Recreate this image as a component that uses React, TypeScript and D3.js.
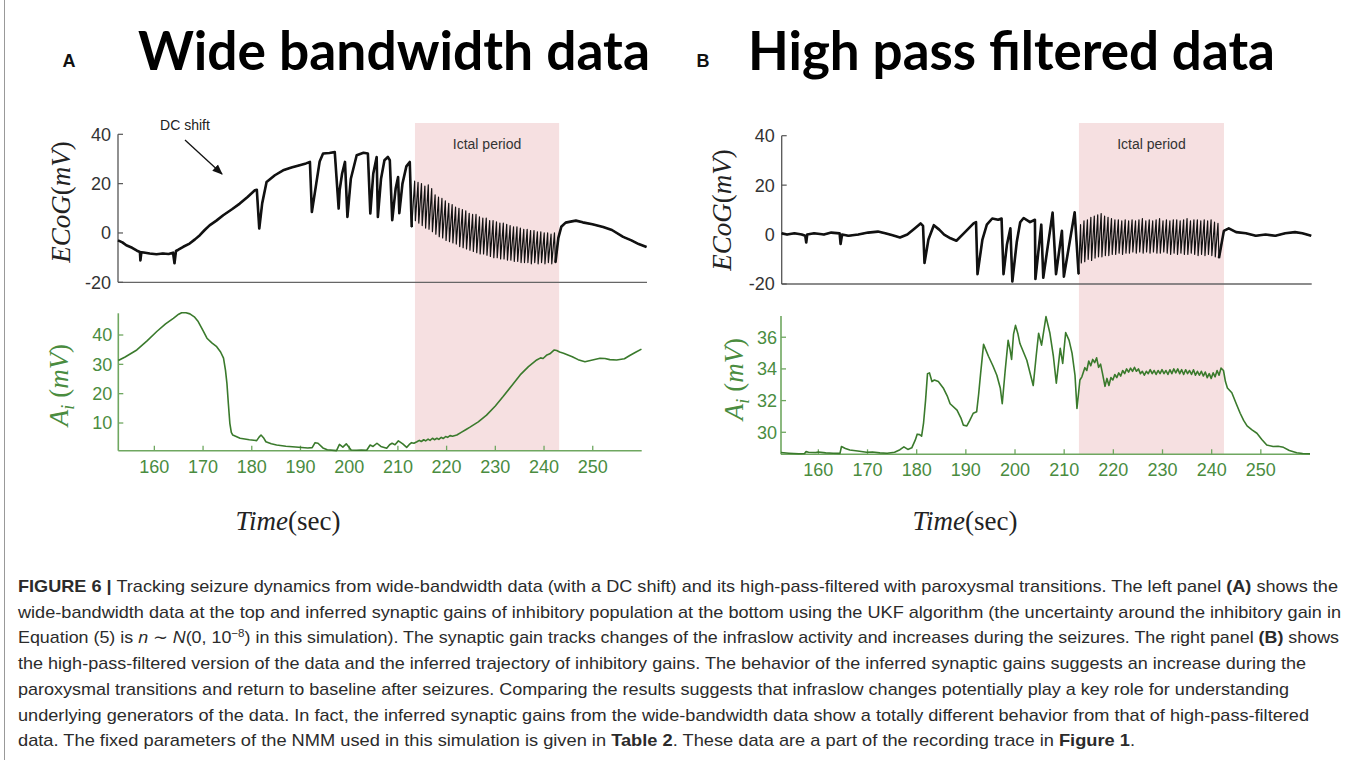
import React from 'react'
import * as d3 from 'd3'

type Pt = [number, number]

// ---- panel A (wide bandwidth) ECoG trace, [time s, mV]
const wideEcogPre: Pt[] = [
  [152.6, -3], [153.5, -3.8], [154.3, -5], [155.5, -6], [156.5, -7.2], [157.1, -7.7], [157.2, -11.1], [157.4, -7.8],
  [158.2, -8], [159.1, -8.3], [160.5, -8.6], [161.8, -8.3], [163, -8.5], [163.9, -8], [164.2, -12.3], [164.5, -7.3],
  [164.9, -6.9], [166, -5.6], [167.3, -4.3], [168.4, -2.6], [169.4, -0.9], [170.4, 1.2], [171.4, 3.1], [172.8, 5],
  [174.2, 7.2], [176, 9.6], [177.6, 11.9], [179.2, 14.6], [180.7, 17.3], [181.1, 17.5], [181.6, 1.8], [182.2, 12],
  [183.1, 20.7], [184.8, 23.4], [186.5, 25.4], [188.2, 26.5], [189.9, 27.5], [191.2, 28.2], [192, 28.8], [192.4, 8.5],
  [193.3, 20], [194, 29], [194.7, 32.2], [196, 32.4], [197.1, 32.8], [197.9, 9.9], [198.1, 17.3], [198.6, 24],
  [199.2, 28.8], [199.7, 6.5], [200.4, 22], [201.6, 31.5], [203, 32.5], [203.9, 32.2], [204.4, 7.9], [205, 24],
  [205.7, 30.8], [205.95, 6.5], [206.6, 22], [207.3, 29.5], [208.0, 30.8], [208.4, 29.5], [208.9, 5.2], [209.6, 18],
  [210.1, 22.7], [210.35, 8], [211.0, 20], [211.8, 27], [212.5, 28.8], [212.9, 2.4],
]
const wideEcogIctal: Pt[] = [
  [213.5, 21], [213.65, 5], [214.2, 20.5], [214.35, 4], [214.9, 20], [215.05, 3], [215.6, 19], [215.75, 2],
  [216.3, 19.5], [216.45, 1.5], [217.0, 18], [217.15, 0.5], [217.7, 15.5], [217.85, -0.5], [218.4, 14.5], [218.55, -1.5],
  [219.1, 14], [219.25, -2], [219.8, 13], [219.95, -3], [220.5, 12], [220.65, -3.5], [221.2, 11.5], [221.35, -4],
  [221.9, 10.5], [222.05, -4.5], [222.6, 10], [222.75, -5.5], [223.3, 9.5], [223.45, -6], [224.0, 9], [224.15, -6.5],
  [224.7, 8], [224.85, -7], [225.4, 7.5], [225.55, -7.5], [226.1, 7.5], [226.25, -8], [226.8, 6.5], [226.95, -8.5],
  [227.5, 6], [227.65, -8.5], [228.2, 6], [228.35, -9], [228.9, 5], [229.05, -9.5], [229.6, 5], [229.75, -10],
  [230.3, 4.5], [230.45, -10], [231.0, 4], [231.15, -10.5], [231.7, 4], [231.85, -10.5], [232.4, 3.5], [232.55, -11],
  [233.1, 3], [233.25, -11], [233.8, 2.5], [233.95, -11.5], [234.5, 2.5], [234.65, -11.5], [235.2, 2], [235.35, -12],
  [235.9, 1.5], [236.05, -12], [236.6, 1.5], [236.75, -12], [237.3, 1], [237.45, -12.5], [238.0, 1], [238.15, -12],
  [238.7, 0.5], [238.85, -12.5], [239.4, 0.5], [239.55, -12], [240.1, 0], [240.25, -12.5], [240.8, 0], [240.95, -12],
  [241.5, -0.5], [241.65, -12.5], [242.2, 0], [242.4, -12],
]
const wideEcogPost: Pt[] = [
  [242.4, -12], [243.0, -2], [243.6, 2.5], [244.5, 4.2], [245.5, 4.6], [246.6, 5], [248, 4.3], [250, 3.5],
  [252.2, 2.4], [254, 1.2], [256.3, -1.6], [258, -3], [259.5, -4.5], [261.1, -5.7],
]

// ---- panel A inhibitory gain, [time s, mV]
const wideGain: Pt[] = [
  [152.6, 31.3], [154, 32.5], [156.4, 34.9], [158.5, 38], [160.5, 41.2], [162.3, 43.8], [163.9, 45.7], [165, 47.1],
  [165.6, 47.6], [166.5, 47.6], [167.3, 47.2], [168.2, 46.2], [169, 44.6], [170, 41.5], [170.8, 38.9], [171.8, 37.3],
  [172.8, 36], [173.6, 34.2], [174.2, 32.1], [174.6, 28], [174.9, 23.5], [175.2, 16.5], [175.5, 9.9], [175.8, 6.8],
  [176.1, 5.9], [177.6, 4.8], [179.5, 4.3], [181, 4], [181.5, 5.2], [181.9, 5.9], [182.4, 5], [182.9, 3.6],
  [184, 2.9], [185.1, 2.5], [187, 2.1], [189, 1.8], [191.5, 1.5], [192.4, 1.6], [193, 3.3], [193.6, 3.1],
  [194.6, 1.5], [195.5, 0.9], [197.4, 0.6], [198, 2.7], [198.7, 1.8], [199.4, 2.9], [200.4, 0.8], [201.5, 0.7],
  [202.5, 0.8], [203.6, 0.7], [204.3, 2.5], [204.9, 2.0], [205.7, 3.1], [206.5, 2.0], [207.7, 1.4], [208.3, 2.6],
  [208.8, 3.1], [209.4, 2.6], [210.1, 3.9], [211, 2.9], [211.8, 1.7], [212.3, 2.6], [212.8, 3.3], [213.3, 3.1],
  [213.9, 3.6], [214.4, 4.1], [214.8, 3.7], [215.3, 4.3], [215.7, 3.9], [216.2, 4.5], [216.6, 4.1], [217.1, 4.8],
  [217.5, 4.3], [218, 4.8], [218.4, 4.4], [218.9, 5.1], [219.3, 4.7], [219.8, 5.4], [220.2, 5.1], [220.7, 5.7],
  [221.2, 5.5], [222.1, 5.9], [223, 6.8], [224, 7.8], [224.8, 8.6], [226.5, 10.4], [228.2, 12.7], [230, 15.8],
  [231.6, 19], [233.4, 22.8], [235.1, 26.4], [236.8, 29.2], [238.5, 31.5], [239.3, 32.2], [239.8, 32.0], [240.6, 33.2],
  [241.2, 33.6], [242.1, 34.9], [242.6, 34.7], [243.2, 34.2], [244, 33.8], [245.8, 32.6], [247, 31.6], [248.4, 30.9],
  [249.5, 31.3], [251.5, 32.1], [252.5, 32.0], [253.5, 31.6], [254.9, 31.5], [256.5, 31.9], [257.6, 33], [258.8, 34.1],
  [260, 35.2],
]

// ---- panel B (high pass filtered) ECoG trace
const hpEcogPre: Pt[] = [
  [152.4, 0.5], [153.5, 0], [155, 0.5], [156.5, 0], [157.2, -0.5], [157.4, -3.2], [157.6, 0], [159, 0.5],
  [161, 0], [162.5, 0.8], [164.2, 0.5], [164.4, -3.8], [164.7, 0], [166, -0.5], [168, 0], [170, 0.8],
  [172, 1.2], [173.5, 0.5], [175, -0.3], [176.5, -1.2], [178, 0], [179.5, 2.5], [180.7, 4.5], [181.2, 3.5],
  [181.5, -11.5], [182.3, -2], [183.4, 3.8], [184.5, 2], [185.5, 0], [186.8, -1.5], [188, -2.5], [189.5, 0.5],
  [191.5, 4.5], [192.0, 5], [192.3, -16], [193.3, -2], [194.2, 4], [195.3, 6.5], [196.5, 6], [197.2, 6.5],
  [197.6, -16], [198.3, -4], [199, 2.5], [199.4, -19], [200.3, -3], [201.0, 5], [201.7, 6.7], [203.0, 5],
  [204.0, 6], [204.1, -18], [205.3, 4], [205.7, -17.5], [207.6, 8.9], [208.3, -16], [209.5, 1.5], [209.9, -17],
  [212.1, 9], [212.9, -16],
]
const hpEcogIctal: Pt[] = [
  [213.3, 4], [213.45, -11.5], [214.0, 5.5], [214.15, -11], [214.7, 6], [214.85, -10], [215.4, 7], [215.55, -10.5],
  [216.1, 7.5], [216.25, -9.5], [216.8, 8], [216.95, -9], [217.5, 8.5], [217.65, -9], [218.2, 7.5], [218.35, -8.5],
  [218.9, 7], [219.05, -8.5], [219.6, 6.5], [219.75, -8], [220.3, 6], [220.45, -8], [221.0, 6], [221.15, -7.5],
  [221.7, 5.5], [221.85, -8], [222.4, 6], [222.55, -7.5], [223.1, 5.5], [223.25, -7.5], [223.8, 6], [223.95, -7],
  [224.5, 5.5], [224.65, -7.5], [225.2, 6], [225.35, -7], [225.9, 6.5], [226.05, -7.5], [226.6, 5.5], [226.75, -7],
  [227.3, 6], [227.45, -7.5], [228.0, 5.5], [228.15, -7], [228.7, 6], [228.85, -7.5], [229.4, 6.5], [229.55, -7.5],
  [230.1, 5.5], [230.25, -7], [230.8, 6], [230.95, -7.5], [231.5, 5.5], [231.65, -8], [232.2, 6], [232.35, -7.5],
  [232.9, 6], [233.05, -8], [233.6, 5.5], [233.75, -7.5], [234.3, 6], [234.45, -8], [235.0, 6.5], [235.15, -8],
  [235.7, 5.5], [235.85, -7.5], [236.4, 6], [236.55, -8], [237.1, 6], [237.25, -8.5], [237.8, 5.5], [237.95, -8],
  [238.5, 6], [238.65, -8.5], [239.2, 5.5], [239.35, -8], [239.9, 6], [240.05, -8.5], [240.6, 5], [240.75, -9],
  [241.3, 4.5], [241.5, -9.5],
]
const hpEcogPost: Pt[] = [
  [241.5, -9.5], [242.5, 1.5], [243.5, 2.5], [245, 1], [247, 0.5], [249, -0.5], [251, 0], [253, -0.5],
  [255, 0.5], [257, 1], [258.5, 0.5], [260.3, -0.5],
]

// ---- panel B inhibitory gain
const hpGain: Pt[] = [
  [152.4, 28.72], [154, 28.68], [156, 28.64], [157.2, 28.66], [157.5, 28.78], [158, 28.74], [159.5, 28.72], [160, 28.76],
  [161.5, 28.7], [163, 28.68], [164.4, 28.67], [164.7, 29.1], [165.5, 28.98], [166.4, 28.88], [168, 28.82], [169.8, 28.74],
  [171, 28.76], [172.5, 28.7], [174, 28.68], [175.5, 28.74], [176.6, 28.9], [177.4, 29.08], [178.2, 28.92], [179, 29.02],
  [179.7, 29.5], [180.1, 29.88], [180.6, 29.85], [181.0, 29.75], [181.4, 30.6], [181.8, 32.0], [182.2, 33.7], [182.6, 33.75],
  [183.1, 33.2], [183.6, 33.3], [184.4, 33.2], [185.4, 32.8], [186.2, 32.3], [186.8, 31.8], [188.2, 31.4], [189.0, 30.9],
  [189.5, 30.45], [190.2, 30.4], [190.8, 30.75], [191.5, 31.2], [192.2, 31.3], [192.6, 32.4], [193.0, 33.7], [193.6, 35.55],
  [194.6, 34.8], [195.5, 34.2], [196.3, 33.6], [197.0, 32.8], [197.4, 31.8], [198.0, 33.9], [198.6, 35.8], [199.0, 35.2],
  [199.3, 34.6], [199.7, 36.2], [200.1, 36.75], [200.6, 36.2], [201.0, 35.6], [202.4, 34.55], [203.7, 32.95], [204.3, 34.8],
  [204.8, 36.25], [205.4, 35.5], [206.3, 37.3], [207.1, 36.25], [207.8, 34.8], [208.4, 33.1], [209.2, 35.3], [209.7, 34.35],
  [210.3, 36.3], [211.0, 35.8], [211.6, 35.0], [212.2, 33.6], [212.6, 31.5], [213.2, 33.3], [213.6, 33.5], [214.2, 34.08],
  [214.6, 33.9], [215.0, 34.5], [215.4, 34.2], [215.8, 34.6], [216.2, 34.4], [216.6, 34.7], [217.0, 34.1], [217.4, 34.3],
  [217.8, 33.7], [218.3, 32.9], [218.7, 33.4], [219.1, 32.95], [219.5, 33.45], [219.9, 33.3], [220.3, 33.65], [220.7, 33.45],
  [221.1, 33.75], [221.5, 33.55], [221.9, 33.9], [222.3, 33.7], [222.7, 34.0], [223.1, 33.8], [223.5, 34.05], [223.9, 33.85],
  [224.3, 34.1], [224.7, 33.85], [225.1, 34.0], [225.5, 33.7], [225.9, 33.85], [226.3, 33.6], [226.7, 33.85], [227.1, 33.7],
  [227.5, 33.95], [227.9, 33.7], [228.3, 33.9], [228.7, 33.65], [229.1, 33.9], [229.5, 33.7], [229.9, 33.95], [230.3, 33.7],
  [230.7, 33.9], [231.1, 33.65], [231.5, 33.95], [231.9, 33.7], [232.3, 34.0], [232.7, 33.75], [233.1, 34.0], [233.5, 33.7],
  [233.9, 33.95], [234.3, 33.65], [234.7, 33.95], [235.1, 33.7], [235.5, 33.9], [235.9, 33.65], [236.3, 33.95], [236.7, 33.6],
  [237.1, 33.85], [237.5, 33.6], [237.9, 33.85], [238.3, 33.55], [238.7, 33.8], [239.1, 33.45], [239.5, 33.7], [239.9, 33.4],
  [240.3, 33.75], [240.7, 33.5], [241.1, 33.9], [241.5, 33.6], [241.9, 34.05], [242.4, 33.9], [242.8, 33.2], [243.2, 32.8],
  [244.1, 32.5], [245.0, 31.8], [245.8, 31.2], [246.5, 30.75], [247.2, 30.4], [248.2, 30.15], [249.2, 29.94], [250.2, 29.55],
  [251.2, 29.2], [252.5, 29.1], [253.5, 29.12], [254.6, 29.05], [255.8, 28.85], [257.3, 28.71], [258.5, 28.66], [260.0, 28.64],
]

const timeTicks = [160, 170, 180, 190, 200, 210, 220, 230, 240, 250]
const ecogTicks = [-20, 0, 20, 40]
const wideGainTicks = [10, 20, 30, 40]
const hpGainTicks = [30, 32, 34, 36]
const ictalA = [213.5, 243.1]
const ictalB = [213.0, 242.5]

type Seg = { t: string; b?: boolean; i?: boolean; sup?: boolean }
const captionLines: { segs: Seg[]; w: number }[] = [
  { w: 1320, segs: [{ t: 'FIGURE 6 |', b: true }, { t: ' Tracking seizure dynamics from wide-bandwidth data (with a DC shift) and its high-pass-filtered with paroxysmal transitions. The left panel ' }, { t: '(A)', b: true }, { t: ' shows the' }] },
  { w: 1323, segs: [{ t: 'wide-bandwidth data at the top and inferred synaptic gains of inhibitory population at the bottom using the UKF algorithm (the uncertainty around the inhibitory gain in' }] },
  { w: 1321, segs: [{ t: 'Equation (5) is ' }, { t: 'n', i: true }, { t: ' ∼ ' }, { t: 'N', i: true }, { t: '(0, 10' }, { t: '−8', sup: true }, { t: ') in this simulation). The synaptic gain tracks changes of the infraslow activity and increases during the seizures. The right panel ' }, { t: '(B)', b: true }, { t: ' shows' }] },
  { w: 1288, segs: [{ t: 'the high-pass-filtered version of the data and the inferred trajectory of inhibitory gains. The behavior of the inferred synaptic gains suggests an increase during the' }] },
  { w: 1271, segs: [{ t: 'paroxysmal transitions and return to baseline after seizures. Comparing the results suggests that infraslow changes potentially play a key role for understanding' }] },
  { w: 1291, segs: [{ t: 'underlying generators of the data. In fact, the inferred synaptic gains from the wide-bandwidth data show a totally different behavior from that of high-pass-filtered' }] },
  { w: 1117, segs: [{ t: 'data. The fixed parameters of the NMM used in this simulation is given in ' }, { t: 'Table 2', b: true }, { t: '. These data are a part of the recording trace in ' }, { t: 'Figure 1', b: true }, { t: '.' }] },
]

const sans = '"Liberation Sans", Arial, sans-serif'
const serif = '"Liberation Serif", "DejaVu Serif", serif'
const GREEN_TEXT = '#4a8c3f'
const GREEN_AXIS = '#6fa760'
const GREEN_LINE = '#3a7a2c'
const PINK = '#f6e0e1'

type Scale = d3.ScaleLinear<number, number>

const lineOf = (x: Scale, y: Scale) => d3.line<Pt>().x(d => x(d[0])).y(d => y(d[1]))

const EcogPanel = ({ x, y, pre, ictal, post }: { x: Scale; y: Scale; pre: Pt[]; ictal: Pt[]; post: Pt[] }) => {
  const line = lineOf(x, y)
  const [x0, x1] = x.range()
  const [yb, yt] = y.range()
  return (
    <g>
      <line x1={x0} x2={x1} y1={yb} y2={yb} stroke="#666" strokeWidth={1.3} />
      <line x1={x0} x2={x0} y1={yb} y2={yt} stroke="#555" strokeWidth={1.3} />
      {ecogTicks.map(v => (
        <g key={v}>
          <line x1={x0} x2={x0 + 5} y1={y(v)} y2={y(v)} stroke="#555" strokeWidth={1.2} />
          <text x={x0 - 7} y={y(v)} dy="0.36em" textAnchor="end" fontFamily={sans} fontSize={18} fill="#333">{v}</text>
        </g>
      ))}
      <path d={line([...pre, ...ictal, ...post]) ?? ''} fill="none" stroke="#111" strokeWidth={1.2} strokeLinejoin="round" />
      <path d={line(pre) ?? ''} fill="none" stroke="#111" strokeWidth={2.6} strokeLinejoin="round" />
      <path d={line(post) ?? ''} fill="none" stroke="#111" strokeWidth={2.6} strokeLinejoin="round" />
    </g>
  )
}

const GainPanel = ({ x, y, data, ticks, labelGap }: { x: Scale; y: Scale; data: Pt[]; ticks: number[]; labelGap: number }) => {
  const line = lineOf(x, y)
  const [x0, x1] = x.range()
  const [yb, yt] = y.range()
  return (
    <g>
      <line x1={x0} x2={x1} y1={yb} y2={yb} stroke={GREEN_AXIS} strokeWidth={1.6} />
      <line x1={x0} x2={x0} y1={yb} y2={yt} stroke={GREEN_AXIS} strokeWidth={1.6} />
      {timeTicks.map(t => (
        <g key={t}>
          <line x1={x(t)} x2={x(t)} y1={yb} y2={yb - 5} stroke={GREEN_AXIS} strokeWidth={1.3} />
          <text x={x(t)} y={yb + 22} textAnchor="middle" fontFamily={sans} fontSize={18} fill={GREEN_TEXT}>{t}</text>
        </g>
      ))}
      {ticks.map(v => (
        <g key={v}>
          <line x1={x0} x2={x0 + 5} y1={y(v)} y2={y(v)} stroke={GREEN_AXIS} strokeWidth={1.3} />
          <text x={x0 - labelGap} y={y(v)} dy="0.36em" textAnchor="end" fontFamily={sans} fontSize={18} fill={GREEN_TEXT}>{v}</text>
        </g>
      ))}
      <path d={line(data) ?? ''} fill="none" stroke={GREEN_LINE} strokeWidth={1.6} strokeLinejoin="round" />
    </g>
  )
}

const EcogLabel = ({ cx, cy }: { cx: number; cy: number }) => (
  <text transform={`translate(${cx},${cy}) rotate(-90)`} textAnchor="middle" fontFamily={serif} fontSize={27} fill="#222">
    <tspan fontStyle="italic">ECoG</tspan>(<tspan fontStyle="italic">mV</tspan>)
  </text>
)

const GainLabel = ({ cx, cy }: { cx: number; cy: number }) => (
  <text transform={`translate(${cx},${cy}) rotate(-90)`} textAnchor="middle" fontFamily={serif} fontSize={27} fill={GREEN_TEXT}>
    <tspan fontStyle="italic">A</tspan>
    <tspan fontStyle="italic" fontSize={18} dy={6}>i</tspan>
    <tspan dy={-6}> (</tspan>
    <tspan fontStyle="italic">mV</tspan>)
  </text>
)

const TimeLabel = ({ cx }: { cx: number }) => (
  <text x={cx} y={530} textAnchor="middle" fontFamily={serif} fontSize={27} fill="#222">
    <tspan fontStyle="italic">Time</tspan>(sec)
  </text>
)

export default function App() {
  const xTA = d3.scaleLinear().domain([152.6, 261.2]).range([118, 647])
  const yTA = d3.scaleLinear().domain([-20, 40]).range([282.3, 134.3])
  const xBA = d3.scaleLinear().domain([152.6, 260.05]).range([118.3, 641.7])
  const yBA = d3.scaleLinear().domain([0.56, 47.4]).range([450.7, 313.3])

  const xTB = d3.scaleLinear().domain([152.4, 260.4]).range([781.7, 1311.7])
  const yTB = d3.scaleLinear().domain([-20, 40]).range([284, 135.7])
  const xBB = d3.scaleLinear().domain([152.4, 260.0]).range([781, 1310])
  const yBB = d3.scaleLinear().domain([28.61, 37.34]).range([454.3, 316])

  return (
    <div style={{ position: 'absolute', left: 0, top: 0 }}>
      <svg width={1355} height={760} style={{ display: 'block', background: '#fff' }}>
        <defs>
          <marker id="arrow" viewBox="0 0 10 10" refX="9" refY="5" markerWidth="8" markerHeight="8" orient="auto">
            <path d="M0,1 L10,5 L0,9 z" fill="#111" />
          </marker>
        </defs>
        <line x1={4.5} x2={4.5} y1={0} y2={760} stroke="#999" strokeWidth={1} />

        {/* titles */}
        <text x={69} y={67} textAnchor="middle" fontFamily={sans} fontWeight="bold" fontSize={18} fill="#111">A</text>
        <text x={138} y={70} fontFamily='Lato, "Open Sans", sans-serif' fontWeight={700} fontSize={54} fill="#000"
          textLength={512} lengthAdjust="spacingAndGlyphs">Wide bandwidth data</text>
        <text x={703} y={67} textAnchor="middle" fontFamily={sans} fontWeight="bold" fontSize={18} fill="#111">B</text>
        <text x={748} y={70} fontFamily='Lato, "Open Sans", sans-serif' fontWeight={700} fontSize={54} fill="#000"
          textLength={527} lengthAdjust="spacingAndGlyphs">High pass filtered data</text>

        {/* ictal shading */}
        <rect x={xBA(ictalA[0])} y={123} width={xBA(ictalA[1]) - xBA(ictalA[0])} height={450.7 - 123} fill={PINK} />
        <rect x={xBB(ictalB[0])} y={123} width={xBB(ictalB[1]) - xBB(ictalB[0])} height={454.3 - 123} fill={PINK} />
        <text x={(xBA(ictalA[0]) + xBA(ictalA[1])) / 2} y={149} textAnchor="middle" fontFamily={sans} fontSize={14} fill="#333">Ictal period</text>
        <text x={(xBB(ictalB[0]) + xBB(ictalB[1])) / 2} y={149} textAnchor="middle" fontFamily={sans} fontSize={14} fill="#333">Ictal period</text>

        <EcogPanel x={xTA} y={yTA} pre={wideEcogPre} ictal={wideEcogIctal} post={wideEcogPost} />
        <GainPanel x={xBA} y={yBA} data={wideGain} ticks={wideGainTicks} labelGap={6} />
        <EcogPanel x={xTB} y={yTB} pre={hpEcogPre} ictal={hpEcogIctal} post={hpEcogPost} />
        <GainPanel x={xBB} y={yBB} data={hpGain} ticks={hpGainTicks} labelGap={4} />

        {/* DC shift annotation */}
        <text x={185} y={130} textAnchor="middle" fontFamily={sans} fontSize={14} fill="#222">DC shift</text>
        <line x1={185} y1={140} x2={222} y2={174} stroke="#111" strokeWidth={1.3} markerEnd="url(#arrow)" />

        <EcogLabel cx={70} cy={202} />
        <EcogLabel cx={731} cy={210} />
        <GainLabel cx={68} cy={385} />
        <GainLabel cx={743} cy={379} />
        <TimeLabel cx={288} />
        <TimeLabel cx={965} />

        {/* caption */}
        {captionLines.map((ln, i) => (
          <text key={i} x={18} y={592 + i * 25.7} fontFamily={'"Liberation Sans Narrow", ' + sans} fontSize={17} fill="#2b2b2b"
            textLength={ln.w} lengthAdjust="spacingAndGlyphs">
            {ln.segs.map((s, j) => (
              <tspan key={j} fontWeight={s.b ? 'bold' : undefined} fontStyle={s.i ? 'italic' : undefined}
                fontSize={s.sup ? 11 : undefined} dy={s.sup ? -6 : (j > 0 && ln.segs[j - 1].sup ? 6 : undefined)}>{s.t}</tspan>
            ))}
          </text>
        ))}
      </svg>
    </div>
  )
}
